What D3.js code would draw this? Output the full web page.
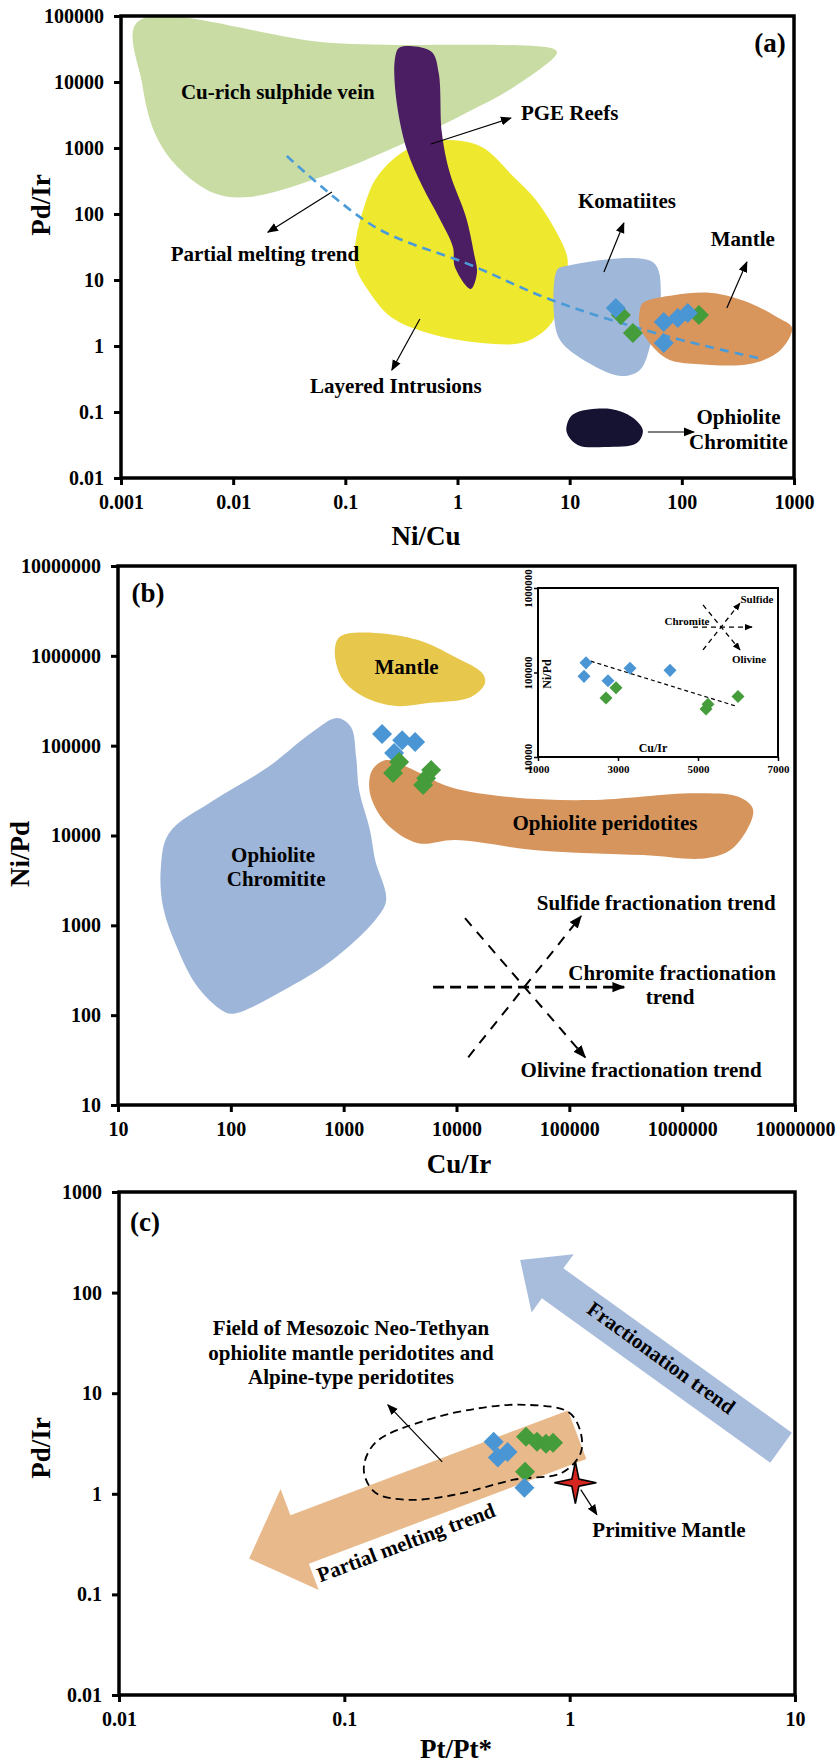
<!DOCTYPE html>
<html>
<head>
<meta charset="utf-8">
<script src="https://cdn.jsdelivr.net/npm/d3@7"></script>
<style>
  body { margin: 0; background: #fff; }
  svg { display: block; font-family: "Liberation Serif", "Times New Roman", serif; font-weight: bold; }
  .axis path.domain { display: none; }
  .axis line { stroke: #000; stroke-width: 3; }
  .axis text { font-size: 20px; fill: #000; font-family: "Liberation Serif", serif; font-weight: bold; }
  .inset .axis line { stroke-width: 1.5; }
  .inset .axis text { font-size: 11px; }
  .lbl { font-size: 21px; fill: #000; }
</style>
</head>
<body>
<div id="chart"></div>
<script>
// ---------- panel (a): Ni/Cu vs Pd/Ir ----------
const aTicksX = [0.001, 0.01, 0.1, 1, 10, 100, 1000];
const aTicksY = [0.01, 0.1, 1, 10, 100, 1000, 10000, 100000];
const aBlueNiCu = [25.8, 69, 92, 113, 69];
const aBluePdIr = [3.77, 2.31, 2.65, 3.16, 1.11];
const aGreenNiCu = [28.6, 36.6, 142];
const aGreenPdIr = [2.95, 1.57, 2.95];
const aCuVein = [[0.0014, 81000], [0.076, 39000], [7.2, 31600], [7.7, 27500], [3.18, 8400], [1.19, 3400], [0.28, 1035], [0.061, 363], [0.0138, 181], [0.0067, 208], [0.0032, 515], [0.002, 1690], [0.00154, 9660]];
const aLayered = [[0.855, 1320], [1.65, 1035], [3.18, 363], [5.0, 163], [7.7, 51.5], [9.6, 20], [8.5, 6.35], [6.9, 2.23], [4.0, 1.15], [1.65, 1.11], [0.545, 1.57], [0.255, 2.75], [0.166, 6.35], [0.124, 15.7], [0.124, 40], [0.147, 128], [0.184, 327], [0.282, 731], [0.49, 1190]];
const aPGE = [[0.377, 35100], [0.59, 28500], [0.68, 13700], [0.726, 1690], [0.855, 418], [1.19, 90], [1.4, 25.6], [1.49, 12.8], [1.31, 7.3], [0.948, 15.7], [0.91, 31.6], [0.68, 90], [0.49, 256], [0.354, 933], [0.285, 5340], [0.276, 21500], [0.3, 32700]];
const aKomatiites = [[8.5, 15.7], [55, 18.7], [65, 6.35], [53, 1.11], [42.3, 0.433], [28.6, 0.351], [14.8, 0.552], [8.2, 1.23], [7.2, 3.5], [7.7, 14.2]];
const aMantle = [[44.9, 4.49], [86.6, 5.93], [185, 6.35], [403, 4.49], [703, 2.75], [955, 1.94], [918, 1.37], [703, 0.78], [403, 0.533], [133, 0.533], [78, 0.614], [58.7, 0.87], [42.3, 1.94], [42.3, 3.5]];
const aChromitite = [[11.8, 0.1], [23.3, 0.111], [35.8, 0.084], [44.9, 0.053], [39.7, 0.0339], [20.6, 0.0295], [11.8, 0.0316], [9.4, 0.0497], [10.0, 0.081]];
const aTrend = [[0.0301, 757], [0.184, 63.5], [1.31, 16.9], [6.9, 4.98], [78, 1.37], [527, 0.635]];
const aLabels = [["Cu-rich sulphide vein", 0.025, 7050], ["PGE Reefs", 10, 3390], ["Komatiites", 32.4, 157], ["Mantle", 350, 41.8],
  ["Partial melting trend", 0.0192, 24.8], ["Layered Intrusions", 0.282, 0.248], ["Ophiolite", 320, 0.084], ["Chromitite", 320, 0.0351]];
const aArrows = [[[0.58, 1150], [2.99, 2850]], [[20.2, 13.2], [30.4, 73]], [[252, 3.77], [380, 18.7]],
  [[0.076, 215], [0.0204, 53]], [[0.462, 2.56], [0.26, 0.433]], [[49.8, 0.0498], [128, 0.0498]]];

// ---------- panel (b): Cu/Ir vs Ni/Pd ----------
const bTicksX = [10, 100, 1000, 10000, 100000, 1000000, 10000000];
const bTicksY = [10, 100, 1000, 10000, 100000, 1000000, 10000000];
const bBlueCuIr = [2190, 3300, 4300, 2800];
const bBlueNiPd = [134600, 115000, 110000, 82800];
const bGreenCuIr = [3100, 2740, 5960, 5380, 5060];
const bGreenNiPd = [65600, 49500, 53500, 43500, 36400];
const bMantle = [[988, 1.71e6], [1900, 1.8e6], [4570, 1.5e6], [9720, 971000], [16900, 643000], [17900, 498000], [13500, 348000], [5600, 298000], [2920, 276000], [1520, 348000], [988, 537000], [839, 971000], [874, 1.5e6]];
const bPeridotites = [[2380, 69200], [3650, 57800], [8770, 34600], [29300, 26800], [150000, 24800], [1.33e6, 29600], [3.2e6, 26800], [4.26e6, 19200], [2.89e6, 7430], [1.67e6, 5600], [451000, 6050], [50800, 6870], [9720, 8890], [4570, 8220], [2380, 13700], [1710, 29600], [1790, 53500]];
const bChromitite = [[874, 203000], [1160, 161000], [1290, 74600], [1370, 32000], [1710, 11500], [1900, 5320], [2380, 1910], [1900, 1140], [789, 409], [328, 205], [111, 105], [89, 108], [51, 205], [33.3, 571], [25.1, 1600], [24, 4450], [28.3, 10600], [71, 24800], [214, 57800], [514, 138000]];
const bLabels = [["Mantle", 3610, 750000], ["Ophiolite peridotites", 207000, 13700], ["Ophiolite", 237, 6050], ["Chromitite", 252, 3270],
  ["Sulfide fractionation trend", 589000, 1770], ["Chromite fractionation", 815000, 294], ["trend", 783000, 158], ["Olivine fractionation trend", 433000, 24.4]];
const bFracArrows = [[[6200, 205], [306000, 205]], [[12700, 34], [127000, 1265]], [[11900, 1200], [138000, 34]]];
// inset (linear Cu/Ir)
const iTicksX = [1000, 3000, 5000, 7000];
const iTicksY = [10000, 100000, 1000000];
const iBlueCuIr = [2200, 2150, 2750, 3300, 4300];
const iBlueNiPd = [130000, 90000, 80000, 112000, 106000];
const iGreenCuIr = [2700, 2950, 5200, 5250, 6000];
const iGreenNiPd = [50000, 66000, 37000, 42000, 52000];
const iTrend = [[2150, 144000], [5950, 40000]];
const iFracArrows = [[[4875, 345000], [6350, 345000]], [[5125, 185000], [6050, 664000]], [[5125, 630000], [6050, 185000]]];
const iLabels = [["Sulfide", 6475, 741000], ["Chromite", 4725, 407000], ["Olivine", 6275, 144000]];

// ---------- panel (c): Pt/Pt* vs Pd/Ir ----------
const cTicksX = [0.01, 0.1, 1, 10];
const cTicksY = [0.01, 0.1, 1, 10, 100, 1000];
const cBluePt = [0.46, 0.53, 0.48, 0.63];
const cBluePdIr = [3.3, 2.6, 2.3, 1.15];
const cGreenPt = [0.64, 0.716, 0.785, 0.844, 0.634];
const cGreenPdIr = [3.69, 3.29, 3.14, 3.21, 1.66];
const cField = [[0.137, 3.21], [0.235, 5.45], [0.408, 7.16], [0.634, 7.67], [0.984, 6.53], [1.11, 4.33], [1.12, 2.56], [0.925, 1.62], [0.566, 1.38], [0.31, 0.98], [0.19, 0.873], [0.137, 1.03], [0.122, 1.73]];
const cFieldText = ["Field of Mesozoic Neo-Tethyan", "ophiolite mantle peridotites and", "Alpine-type peridotites"];
const cFieldTextY = [44.6, 25.2, 14.6];
const cFieldTextX = 0.107;
const cFieldArrow = [[0.272, 2.08], [0.156, 7.67]];
const cFractionation = [[8.67, 2.87], [0.603, 211]];
const cPartialMelting = [[1.08, 3.86], [0.0378, 0.227]];
const cFracLabel = ["Fractionation trend", 2.55, 22.5];
const cMeltLabel = ["Partial melting trend", 0.188, 0.327];
const cPrimitive = [1.06, 1.29];
const cPrimArrow = [[1.12, 1.1], [1.32, 0.62]];
const cPrimLabel = ["Primitive Mantle", 2.76, 0.44];

const BLUE = '#4a96d4', GREEN = '#459c3a';

const W = 840, H = 1763;
const svg = d3.select('#chart').append('svg').attr('width', W).attr('height', H);
svg.append('rect').attr('width', W).attr('height', H).attr('fill', '#fff');

const defs = svg.append('defs');
function marker(id, size) {
  defs.append('marker').attr('id', id)
    .attr('viewBox', '0 0 10 10').attr('refX', 9).attr('refY', 5)
    .attr('markerUnits', 'userSpaceOnUse')
    .attr('markerWidth', size).attr('markerHeight', size)
    .attr('orient', 'auto')
    .append('path').attr('d', 'M0,1 L10,5 L0,9 Z').attr('fill', '#000');
}
marker('ah', 11);
marker('ahb', 13);
marker('ahs', 8);

const fmt = d => String(d);

function panel(box, xDom, yDom) {
  const x = d3.scaleLog().domain(xDom).range([box.x0, box.x1]);
  const y = d3.scaleLog().domain(yDom).range([box.y1, box.y0]);
  return { x, y, box, g: svg.append('g') };
}

function field(p, pts, fill) {
  const line = d3.line().x(d => p.x(d[0])).y(d => p.y(d[1])).curve(d3.curveCatmullRomClosed.alpha(0.5));
  p.g.append('path').attr('d', line(pts)).attr('fill', fill);
}

function labels(p, list, size) {
  list.forEach(l => {
    p.g.append('text').attr('class', 'lbl')
      .attr('x', p.x(l[1])).attr('y', p.y(l[2]))
      .attr('text-anchor', 'middle').attr('dominant-baseline', 'central')
      .style('font-size', (size || 21) + 'px')
      .text(l[0]);
  });
}

function arrow(p, a, opts) {
  opts = opts || {};
  p.g.append('line')
    .attr('x1', p.x(a[0][0])).attr('y1', p.y(a[0][1]))
    .attr('x2', p.x(a[1][0])).attr('y2', p.y(a[1][1]))
    .attr('stroke', '#000').attr('stroke-width', opts.w || 1.2)
    .attr('stroke-dasharray', opts.dash || null)
    .attr('marker-end', 'url(#' + (opts.m || 'ah') + ')');
}

function diamonds(p, xs, ys, color, size) {
  p.g.append('g').selectAll('path')
    .data(xs.map((v, i) => [v, ys[i]]))
    .join('path')
    .attr('d', d3.symbol(d3.symbolSquare, size || 200))
    .attr('transform', d => 'translate(' + p.x(d[0]) + ',' + p.y(d[1]) + ') rotate(45)')
    .attr('fill', color);
}

function frame(p, xTicks, yTicks, xTitle, yTitle, tag) {
  const { x, y, g, box } = p;
  g.append('rect')
    .attr('x', box.x0).attr('y', box.y0)
    .attr('width', box.x1 - box.x0).attr('height', box.y1 - box.y0)
    .attr('fill', 'none').attr('stroke', '#000').attr('stroke-width', 3.5);
  g.append('g').attr('class', 'axis')
    .attr('transform', 'translate(0,' + box.y1 + ')')
    .call(d3.axisBottom(x).tickValues(xTicks).tickFormat(fmt).tickSize(7).tickPadding(10));
  g.append('g').attr('class', 'axis')
    .attr('transform', 'translate(' + box.x0 + ',0)')
    .call(d3.axisLeft(y).tickValues(yTicks).tickFormat(fmt).tickSize(7).tickPadding(10));
  // axis titles
  g.append('text').attr('x', xTitle[1]).attr('y', xTitle[2])
    .attr('text-anchor', 'middle').style('font-size', '27px').text(xTitle[0]);
  g.append('text')
    .attr('transform', 'translate(' + yTitle[1] + ',' + yTitle[2] + ') rotate(-90)')
    .attr('text-anchor', 'middle').style('font-size', '27px').text(yTitle[0]);
  g.append('text').attr('x', tag[1]).attr('y', tag[2])
    .attr('text-anchor', 'middle').attr('dominant-baseline', 'central')
    .style('font-size', '27px').text(tag[0]);
}

// ================= (a) =================
const pa = panel({ x0: 121, x1: 794, y0: 16, y1: 478 }, [0.001, 1000], [0.01, 100000]);
field(pa, aCuVein, '#c8dca4');
field(pa, aLayered, '#eee82e');
field(pa, aPGE, '#4b1d63');
field(pa, aKomatiites, '#9fb7d9');
field(pa, aMantle, '#d8965c');
field(pa, aChromitite, '#161232');
pa.g.append('path')
  .attr('d', d3.line().x(d => pa.x(d[0])).y(d => pa.y(d[1])).curve(d3.curveCatmullRom)(aTrend))
  .attr('fill', 'none').attr('stroke', '#4b9bd8').attr('stroke-width', 2.6).attr('stroke-dasharray', '9,6');
aArrows.forEach(a => arrow(pa, a));
labels(pa, aLabels);
diamonds(pa, aGreenNiCu, aGreenPdIr, GREEN);
diamonds(pa, aBlueNiCu, aBluePdIr, BLUE);
frame(pa, aTicksX, aTicksY, ['Ni/Cu', 426, 545], ['Pd/Ir', 50, 205], ['(a)', 770, 43]);

// ================= (b) =================
const pb = panel({ x0: 118, x1: 795, y0: 566, y1: 1105 }, [10, 10000000], [10, 10000000]);
field(pb, bMantle, '#e8c84c');
field(pb, bPeridotites, '#d6955c');
field(pb, bChromitite, '#9db5d8');
labels(pb, bLabels);
bFracArrows.forEach((a, i) => arrow(pb, a, { w: i === 0 ? 2.8 : 2, dash: i === 0 ? '11,6' : '10,8', m: 'ahb' }));
diamonds(pb, bBlueCuIr, bBlueNiPd, BLUE);
diamonds(pb, bGreenCuIr, bGreenNiPd, GREEN);

// inset
const ib = { x0: 538, x1: 778, y0: 588, y1: 757 };
const pi = {
  x: d3.scaleLinear().domain([1000, 7000]).range([ib.x0, ib.x1]),
  y: d3.scaleLog().domain([10000, 1000000]).range([ib.y1, ib.y0]),
  box: ib,
  g: pb.g.append('g').attr('class', 'inset')
};
pi.g.append('rect').attr('x', ib.x0).attr('y', ib.y0)
  .attr('width', ib.x1 - ib.x0).attr('height', ib.y1 - ib.y0)
  .attr('fill', '#fff').attr('stroke', '#000').attr('stroke-width', 2);
pi.g.append('g').attr('class', 'axis').attr('transform', 'translate(0,' + ib.y1 + ')')
  .call(d3.axisBottom(pi.x).tickValues(iTicksX).tickFormat(d3.format('d')).tickSize(4).tickPadding(4));
pi.g.append('g').attr('class', 'axis').attr('transform', 'translate(' + ib.x0 + ',0)')
  .call(d3.axisLeft(pi.y).tickValues(iTicksY).tickFormat(fmt).tickSize(4))
  .selectAll('text')
  .attr('text-anchor', 'middle').attr('transform', 'rotate(-90)')
  .attr('x', 0).attr('y', -6).attr('dy', 0);
pi.g.append('line')
  .attr('x1', pi.x(iTrend[0][0])).attr('y1', pi.y(iTrend[0][1]))
  .attr('x2', pi.x(iTrend[1][0])).attr('y2', pi.y(iTrend[1][1]))
  .attr('stroke', '#000').attr('stroke-width', 1.2).attr('stroke-dasharray', '4,3');
iFracArrows.forEach(a => arrow(pi, a, { w: 1.3, dash: '5,4', m: 'ahs' }));
labels(pi, iLabels, 11);
pi.g.append('text').attr('x', 653).attr('y', 752).attr('text-anchor', 'middle')
  .style('font-size', '12px').text('Cu/Ir');
pi.g.append('text').attr('transform', 'translate(551,674) rotate(-90)').attr('text-anchor', 'middle')
  .style('font-size', '12px').text('Ni/Pd');
diamonds(pi, iBlueCuIr, iBlueNiPd, BLUE, 85);
diamonds(pi, iGreenCuIr, iGreenNiPd, GREEN, 85);

frame(pb, bTicksX, bTicksY, ['Cu/Ir', 459, 1173], ['Ni/Pd', 29, 854], ['(b)', 148, 593]);

// ================= (c) =================
const pc = panel({ x0: 119, x1: 795, y0: 1192, y1: 1695 }, [0.01, 10], [0.01, 1000]);

function bigArrow(p, a, sw, hw, hl, fill) {
  const p0 = [p.x(a[0][0]), p.y(a[0][1])], p1 = [p.x(a[1][0]), p.y(a[1][1])];
  const dx = p1[0] - p0[0], dy = p1[1] - p0[1], L = Math.hypot(dx, dy);
  const ux = dx / L, uy = dy / L, nx = -uy, ny = ux;
  const bx = p1[0] - ux * hl, by = p1[1] - uy * hl;
  const pts = [
    [p0[0] + nx * sw / 2, p0[1] + ny * sw / 2], [bx + nx * sw / 2, by + ny * sw / 2],
    [bx + nx * hw / 2, by + ny * hw / 2], p1,
    [bx - nx * hw / 2, by - ny * hw / 2], [bx - nx * sw / 2, by - ny * sw / 2],
    [p0[0] - nx * sw / 2, p0[1] - ny * sw / 2]
  ];
  p.g.append('path').attr('d', d3.line()(pts) + 'Z').attr('fill', fill);
  return Math.atan2(-dy, -dx) * 180 / Math.PI;
}

const fracAngle = bigArrow(pc, cFractionation, 37, 72, 40, '#a8bcdc');
const meltAngle = bigArrow(pc, cPartialMelting, 52, 108, 54, '#e8b98b');

function rotLabel(p, l, angle) {
  p.g.append('text').attr('class', 'lbl')
    .attr('transform', 'translate(' + p.x(l[1]) + ',' + p.y(l[2]) + ') rotate(' + angle + ')')
    .attr('text-anchor', 'middle').attr('dominant-baseline', 'central')
    .text(l[0]);
}
rotLabel(pc, cFracLabel, fracAngle);
rotLabel(pc, cMeltLabel, meltAngle);

pc.g.append('path')
  .attr('d', d3.line().x(d => pc.x(d[0])).y(d => pc.y(d[1])).curve(d3.curveCatmullRomClosed.alpha(0.5))(cField))
  .attr('fill', 'none').attr('stroke', '#000').attr('stroke-width', 1.8).attr('stroke-dasharray', '8,5');

cFieldText.forEach((t, i) => {
  pc.g.append('text').attr('class', 'lbl')
    .attr('x', pc.x(cFieldTextX)).attr('y', pc.y(cFieldTextY[i]))
    .attr('text-anchor', 'middle').attr('dominant-baseline', 'central').text(t);
});
arrow(pc, cFieldArrow);

diamonds(pc, cGreenPt, cGreenPdIr, GREEN);
diamonds(pc, cBluePt, cBluePdIr, BLUE);

// primitive mantle star
const star = d3.range(8).map(i => {
  const ang = i * Math.PI / 4 - Math.PI / 2, r = i % 2 ? 5 : 21;
  return [Math.cos(ang) * r, Math.sin(ang) * r];
});
pc.g.append('path')
  .attr('d', d3.line()(star) + 'Z')
  .attr('transform', 'translate(' + pc.x(cPrimitive[0]) + ',' + pc.y(cPrimitive[1]) + ')')
  .attr('fill', '#d4251e').attr('stroke', '#000').attr('stroke-width', 1.6);
arrow(pc, cPrimArrow);
labels(pc, [cPrimLabel]);

frame(pc, cTicksX, cTicksY, ['Pt/Pt*', 456, 1758], ['Pd/Ir', 50, 1448], ['(c)', 145, 1222]);
</script>
</body>
</html>
